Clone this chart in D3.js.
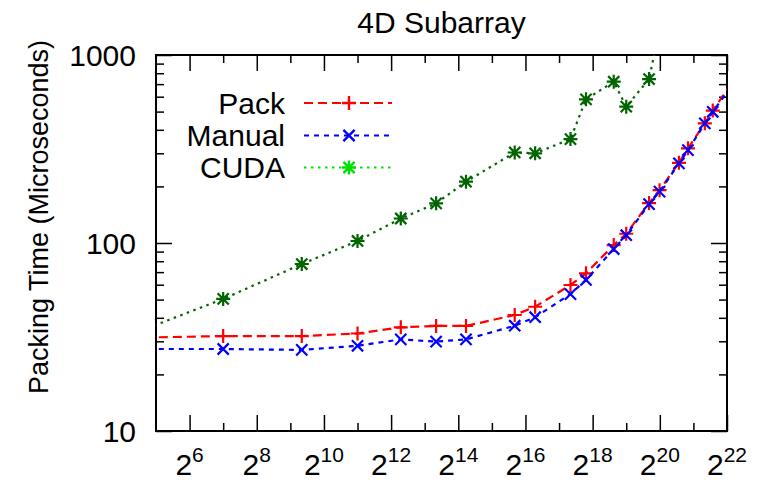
<!DOCTYPE html>
<html>
<head>
<meta charset="utf-8">
<script src="https://cdn.jsdelivr.net/npm/d3@7"></script>
<style>
  body { margin: 0; background: #fff; }
  text { font-family: "Liberation Sans", Arial, Helvetica, sans-serif; fill: #000; }
</style>
</head>
<body>
<svg id="chart" width="759" height="480"></svg>
<script>
// subarray sizes in bytes (x values, log2 axis)
const sizes = [8, 128, 648, 2048, 5000, 10368, 19208, 52488, 80000, 165888, 228488,
  405000, 524288, 839808, 1042568, 1555848, 1874048, 2654208, 3125000, 4251528];

// packing times in microseconds
const packTimes = [31, 32, 32, 33, 35.6, 36.2, 36.2, 41.4, 45.8, 59.8, 69,
  97.5, 112, 163, 191, 267, 319, 433, 506, 660];
const manualTimes = [27.3, 27.3, 27.0, 28.4, 30.7, 29.9, 30.7, 36.3, 40.3, 53.5, 63.6,
  92.9, 110, 161, 187.5, 265, 312, 433, 499, 640];
const cudaTimes = [26.7, 50.4, 77.3, 102.5, 135, 162.5, 212, 303, 300, 357, 581,
  721, 531, 745, 1365];

// axis ticks
const xMajorExp = [6, 8, 10, 12, 14, 16, 18, 20, 22];
const xMinorExp = [7, 9, 11, 13, 15, 17, 19, 21];
const yMajor = [10, 100, 1000];
const yMinor = [20, 30, 40, 50, 60, 70, 80, 90, 200, 300, 400, 500, 600, 700, 800, 900];

const series = [
  { name: "Pack", values: packTimes, color: "#ff0000", legendColor: "#ff0000", dash: "9,5", marker: "plus" },
  { name: "Manual", values: manualTimes, color: "#0000ff", legendColor: "#0000ff", dash: "5,5", marker: "cross" },
  { name: "CUDA", values: cudaTimes, color: "#006400", legendColor: "#00e000", dash: "2.5,4.5", marker: "star" }
];

const plotLeft = 156, plotRight = 727, plotTop = 55, plotBottom = 431;
const svg = d3.select("#chart");

const x = d3.scaleLog().base(2).domain([2 ** 5, 2 ** 22]).range([plotLeft, plotRight]);
const y = d3.scaleLog().domain([10, 1000]).range([plotBottom, plotTop]);

// marker shapes as path strings centred on 0,0
function markerPath(type, r) {
  const p = `M${-r},0L${r},0M0,${-r}L0,${r}`;
  const c = `M${-r * 0.8},${-r * 0.8}L${r * 0.8},${r * 0.8}M${-r * 0.8},${r * 0.8}L${r * 0.8},${-r * 0.8}`;
  if (type === "plus") return p;
  if (type === "cross") return c;
  return p + c;
}

svg.append("clipPath").attr("id", "plotClip")
  .append("rect").attr("x", plotLeft).attr("y", plotTop)
  .attr("width", plotRight - plotLeft).attr("height", plotBottom - plotTop);

// ticks, all pointing inward, mirrored on both sides
function tickAxis(axis, values, size, transform) {
  svg.append("g")
    .attr("transform", transform)
    .call(axis.tickValues(values).tickSize(size).tickFormat(""))
    .call(g => g.select(".domain").remove())
    .call(g => g.selectAll("line").attr("stroke", "#000").attr("stroke-width", 1.5));
}
tickAxis(d3.axisBottom(x), xMajorExp.map(e => 2 ** e), -16, `translate(0,${plotBottom})`);
tickAxis(d3.axisBottom(x), xMinorExp.map(e => 2 ** e), -8, `translate(0,${plotBottom})`);
tickAxis(d3.axisTop(x), xMajorExp.map(e => 2 ** e), -16, `translate(0,${plotTop})`);
tickAxis(d3.axisTop(x), xMinorExp.map(e => 2 ** e), -8, `translate(0,${plotTop})`);
tickAxis(d3.axisLeft(y), yMajor, -16, `translate(${plotLeft},0)`);
tickAxis(d3.axisLeft(y), yMinor, -8, `translate(${plotLeft},0)`);
tickAxis(d3.axisRight(y), yMajor, -16, `translate(${plotRight},0)`);
tickAxis(d3.axisRight(y), yMinor, -8, `translate(${plotRight},0)`);

// frame
svg.append("rect")
  .attr("x", plotLeft).attr("y", plotTop)
  .attr("width", plotRight - plotLeft).attr("height", plotBottom - plotTop)
  .attr("fill", "none").attr("stroke", "#000").attr("stroke-width", 2);

// x tick labels as 2^n
const xLabels = svg.append("g").selectAll("text")
  .data(xMajorExp)
  .join("text")
  .attr("x", d => x(2 ** d))
  .attr("y", 475)
  .attr("text-anchor", "middle")
  .style("font-size", "30px");
xLabels.append("tspan").text("2");
xLabels.append("tspan").attr("dy", -13).style("font-size", "21px").text(d => d);

// y tick labels
svg.append("g").selectAll("text")
  .data(yMajor)
  .join("text")
  .attr("x", 136)
  .attr("y", d => y(d))
  .attr("dy", "0.36em")
  .attr("text-anchor", "end")
  .style("font-size", "30px")
  .text(d => d);

// axis title and chart title
svg.append("text")
  .attr("transform", "translate(48,217) rotate(-90)")
  .attr("text-anchor", "middle")
  .style("font-size", "27px")
  .text("Packing Time (Microseconds)");

svg.append("text")
  .attr("x", (plotLeft + plotRight) / 2)
  .attr("y", 33)
  .attr("text-anchor", "middle")
  .style("font-size", "30px")
  .text("4D Subarray");

// series lines and markers
const line = d3.line().x(d => x(d[0])).y(d => y(d[1]));
series.forEach(s => {
  const pts = s.values.map((v, i) => [sizes[i], v]);
  svg.append("path")
    .datum(pts)
    .attr("clip-path", "url(#plotClip)")
    .attr("fill", "none")
    .attr("stroke", s.color)
    .attr("stroke-width", 2.2)
    .attr("stroke-dasharray", s.dash)
    .attr("d", line);

  const inView = pts.filter(d => d[0] >= 2 ** 5 && d[0] <= 2 ** 22 && d[1] >= 10 && d[1] <= 1000);
  svg.append("g").selectAll("path")
    .data(inView)
    .join("path")
    .attr("transform", d => `translate(${x(d[0])},${y(d[1])})`)
    .attr("d", markerPath(s.marker, 7))
    .attr("fill", "none")
    .attr("stroke", s.color)
    .attr("stroke-width", 2.2);
});

// legend
const legendY = [103, 135.5, 167.5];
series.forEach((s, i) => {
  const ly = legendY[i];
  svg.append("text")
    .attr("x", 285)
    .attr("y", ly)
    .attr("dy", "0.36em")
    .attr("text-anchor", "end")
    .style("font-size", "30px")
    .text(s.name);
  svg.append("line")
    .attr("x1", 304).attr("x2", 392)
    .attr("y1", ly).attr("y2", ly)
    .attr("stroke", s.legendColor)
    .attr("stroke-width", 2.2)
    .attr("stroke-dasharray", s.dash);
  svg.append("path")
    .attr("transform", `translate(349,${ly})`)
    .attr("d", markerPath(s.marker, 7))
    .attr("fill", "none")
    .attr("stroke", s.legendColor)
    .attr("stroke-width", 2.4);
});
</script>
</body>
</html>
